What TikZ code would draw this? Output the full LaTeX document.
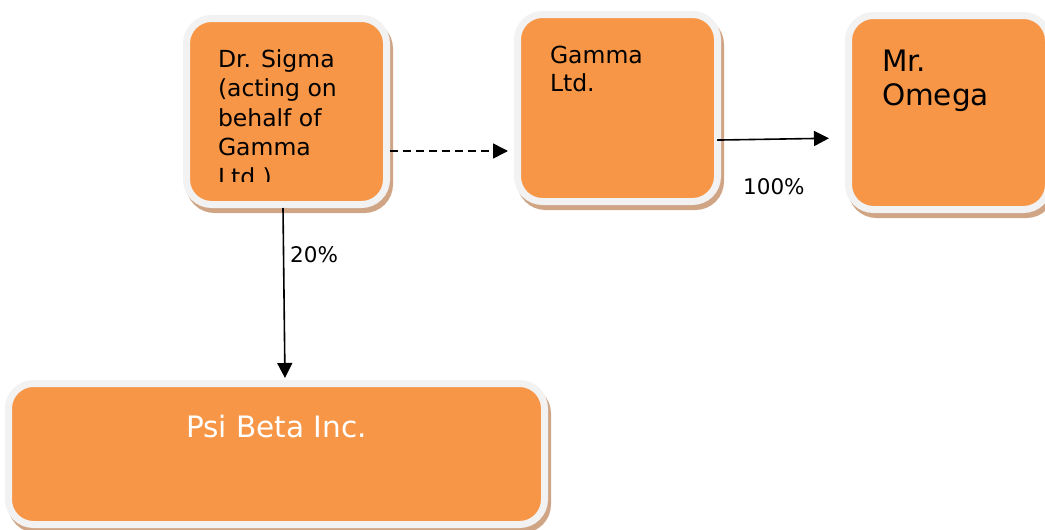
\documentclass[tikz,border=0pt]{standalone}
\usepackage{fontspec}
\setmainfont{DejaVu Sans}
\usetikzlibrary{arrows.meta,shadows}
\definecolor{boxorange}{HTML}{F79646}
\definecolor{boxrim}{HTML}{F2F2F2}
\definecolor{boxshadow}{HTML}{D0A585}
\begin{document}
\begin{tikzpicture}[x=1pt,y=-1pt,
  orgbox/.style={rectangle, rounded corners=25pt, fill=boxorange, draw=boxrim,
    line width=7pt, inner sep=0pt,
    general shadow={fill=boxshadow, draw=boxshadow, line width=7pt,
      shadow xshift=3pt, shadow yshift=-5pt}},
  boxtext/.style={inner sep=0pt, outer sep=0pt, align=left, text=black, anchor=north west},
  pct/.style={inner sep=0pt, anchor=base west, text=black, font=\fontsize{21.5}{26}\selectfont},
  link/.style={line width=1.6pt, -{Triangle[length=15pt,width=15pt]}}]
\useasboundingbox (0,0) rectangle (1045,530);
\clip (0,0) rectangle (1045,530);
% boxes
\node[orgbox, minimum width=200pt, minimum height=186pt] (sigma) at (286.5,111.5) {};
\node[orgbox, minimum width=200pt, minimum height=187pt] (gamma) at (617.5,108) {};
\node[orgbox, minimum width=200pt, minimum height=194pt] (omega) at (948.5,112.5) {};
\node[orgbox, minimum width=536pt, minimum height=141pt] (psi) at (276.5,454) {};
% texts
\begin{scope}
  \clip (190,22) rectangle (383,181);
  \node[boxtext, font=\fontsize{23.5}{29.5}\selectfont] (sigmatext) at (218,46.35)
    {\strut Dr. Sigma\\(acting on\\behalf of\\Gamma\\Ltd.)};
\end{scope}
\node[boxtext, font=\fontsize{23.5}{27.7}\selectfont] (gammatext) at (550,44.6)
  {\strut Gamma\\Ltd.};
\node[boxtext, font=\fontsize{29.5}{33.3}\selectfont] (omegatext) at (882,48.4)
  {\strut Mr.\\Omega};
\node[inner sep=0pt, anchor=base, text=white, font=\fontsize{29.5}{35}\selectfont]
  (psitext) at (276.5,437) {Psi Beta Inc.};
% connectors
\draw[link, dash pattern=on 8pt off 5pt, shorten >=6pt]
  (sigma.east |- 0,151) -- (gamma.west |- 0,151);
\draw[link, shorten >=2pt] (283,0 |- sigma.south) -- (285,0 |- psi.north);
\draw[link, shorten <=-4pt, shorten >=16pt] (gamma.east |- 0,140) -- (omega.west |- 0,138);
% labels
\node[pct] (p20) at (290,262) {20\%};
\node[pct] (p100) at (743,194) {100\%};
\end{tikzpicture}
\end{document}
